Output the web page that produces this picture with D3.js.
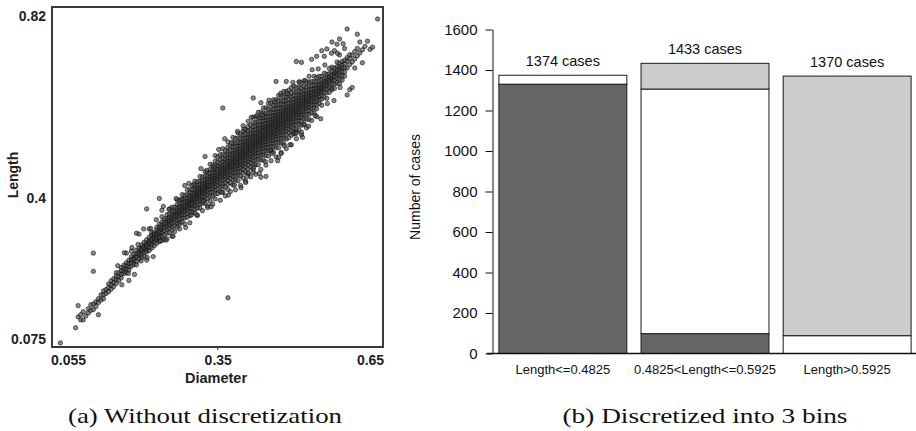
<!DOCTYPE html>
<html>
<head>
<meta charset="utf-8">
<script src="https://cdn.jsdelivr.net/npm/d3@7"></script>
<style>
  body { margin: 0; background: #fff; }
  svg { display: block; }
  .sans { font-family: "Liberation Sans", Arial, sans-serif; }
  .serif { font-family: "Liberation Serif", "Times New Roman", serif; }
</style>
</head>
<body>
<script>
// ---- data: (a) length vs diameter, one entry per diameter value -> list of lengths
var scatterColumns = [
  [.040, [.066]],
  [.070, [.101]],
  [.075, [.126, .152]],
  [.080, [.119, .131]],
  [.085, [.119, .138]],
  [.090, [.128]],
  [.095, [.145, .135]],
  [.100, [.141, .154]],
  [.105, [.143, .156, .231, .273]],
  [.110, [.161, .150]],
  [.115, [.168, .131, .159]],
  [.120, [.165, .177]],
  [.125, [.177, .186, .168]],
  [.130, [.189, .180]],
  [.135, [.193, .184, .202]],
  [.140, [.199, .190, .209]],
  [.145, [.205, .214, .196]],
  [.150, [.212, .220, .203, .228]],
  [.155, [.219, .228, .210]],
  [.160, [.224, .233, .216, .240]],
  [.165, [.226, .238, .231, .245]],
  [.170, [.236, .244, .228, .251, .273]],
  [.175, [.241, .250, .210, .257, .234]],
  [.180, [.250, .258, .243, .265, .278]],
  [.185, [.255, .263, .247, .270, .259]],
  [.190, [.254, .264, .272, .280, .246, .319]],
  [.195, [.268, .276, .260, .284, .317, .272]],
  [.200, [.277, .285, .269, .292, .281, .262]],
  [.205, [.282, .290, .274, .298, .286, .266]],
  [.210, [.288, .296, .280, .304, .257, .292, .276, .375]],
  [.215, [.293, .301, .285, .310, .329, .297, .279]],
  [.220, [.300, .308, .292, .315, .304, .285, .320]],
  [.225, [.305, .313, .297, .321, .309, .290, .317]],
  [.230, [.311, .319, .303, .327, .315, .296, .333, .308]],
  [.235, [.316, .325, .308, .333, .320, .300, .340, .312, .399]],
  [.240, [.302, .313, .321, .327, .332, .338, .345, .357, .372]],
  [.245, [.315, .325, .332, .339, .344, .352, .305]],
  [.250, [.319, .329, .335, .342, .348, .353, .362, .306]],
  [.255, [.320, .331, .339, .345, .350, .356, .363, .375]],
  [.260, [.326, .335, .342, .348, .352, .357, .363, .370, .379, .312]],
  [.265, [.336, .346, .352, .359, .365, .370, .379, .323]],
  [.270, [.333, .342, .350, .356, .361, .366, .371, .377, .385, .396]],
  [.275, [.343, .352, .359, .365, .369, .374, .380, .387, .396, .329]],
  [.280, [.345, .354, .362, .368, .373, .378, .383, .389, .397, .408]],
  [.285, [.354, .363, .370, .376, .380, .385, .391, .398, .407, .340, .429]],
  [.290, [.356, .365, .373, .379, .384, .389, .394, .400, .408, .419]],
  [.295, [.360, .369, .376, .382, .387, .391, .395, .400, .406, .412, .421, .343]],
  [.300, [.367, .376, .384, .390, .395, .400, .405, .411, .419, .430, .387]],
  [.305, [.366, .375, .383, .389, .395, .400, .404, .409, .414, .420, .428, .439]],
  [.310, [.377, .386, .393, .399, .404, .408, .412, .417, .423, .429, .438, .360]],
  [.315, [.377, .386, .394, .400, .406, .411, .415, .420, .425, .431, .439, .450]],
  [.320, [.388, .397, .404, .410, .415, .419, .423, .428, .434, .440, .449, .371]],
  [.325, [.388, .397, .405, .411, .417, .422, .426, .431, .436, .442, .450, .461, .496]],
  [.330, [.399, .408, .415, .421, .426, .430, .434, .439, .445, .451, .460, .382, .378]],
  [.335, [.393, .404, .413, .420, .427, .433, .438, .444, .450, .457, .466, .478]],
  [.340, [.404, .414, .422, .429, .435, .441, .446, .452, .458, .466, .476, .386]],
  [.345, [.398, .410, .419, .426, .433, .439, .444, .449, .454, .460, .467, .475, .485, .498]],
  [.350, [.410, .421, .430, .437, .444, .450, .455, .461, .467, .474, .483, .495]],
  [.355, [.415, .426, .434, .441, .447, .452, .457, .462, .467, .473, .480, .489, .500, .395]],
  [.360, [.414, .426, .435, .442, .449, .455, .460, .465, .470, .476, .483, .491, .501, .514, .608]],
  [.365, [.425, .436, .444, .451, .457, .462, .467, .472, .477, .483, .490, .499, .510, .405]],
  [.370, [.420, .432, .441, .448, .455, .461, .466, .471, .476, .481, .487, .493, .500, .508, .518, .530, .170]],
  [.375, [.435, .446, .454, .461, .467, .472, .477, .482, .487, .493, .500, .509, .520, .415]],
  [.380, [.430, .442, .451, .458, .465, .471, .476, .481, .486, .491, .497, .503, .510, .518, .528, .540]],
  [.385, [.441, .452, .460, .467, .473, .479, .484, .489, .494, .499, .505, .511, .518, .527, .538, .419]],
  [.390, [.440, .452, .461, .468, .475, .481, .486, .491, .496, .501, .507, .513, .520, .528, .538, .550]],
  [.395, [.451, .462, .470, .477, .483, .489, .494, .499, .504, .509, .515, .521, .528, .537, .548, .429]],
  [.400, [.446, .458, .467, .474, .481, .487, .493, .498, .503, .508, .513, .518, .524, .530, .537, .545, .555, .567]],
  [.405, [.461, .472, .480, .487, .493, .499, .504, .509, .514, .519, .525, .531, .538, .547, .558, .439, .436]],
  [.410, [.456, .468, .477, .484, .491, .497, .503, .508, .513, .518, .523, .528, .534, .540, .547, .555, .565, .577, .459]],
  [.415, [.471, .482, .490, .497, .503, .509, .514, .519, .524, .529, .535, .541, .548, .557, .568, .449]],
  [.420, [.466, .478, .487, .494, .501, .507, .513, .518, .523, .528, .533, .538, .544, .550, .557, .565, .575, .587, .459, .631]],
  [.425, [.477, .488, .496, .503, .509, .515, .520, .525, .530, .535, .540, .545, .551, .558, .566, .575, .587, .455]],
  [.430, [.477, .489, .498, .505, .512, .518, .524, .529, .534, .539, .544, .549, .555, .561, .568, .576, .586, .598]],
  [.435, [.488, .499, .507, .514, .520, .526, .531, .536, .541, .546, .551, .556, .562, .569, .577, .586, .598, .466, .620, .448]],
  [.440, [.487, .499, .508, .515, .522, .528, .534, .539, .544, .549, .554, .559, .565, .571, .578, .586, .596, .608]],
  [.445, [.498, .509, .517, .524, .530, .536, .541, .546, .551, .556, .561, .566, .572, .579, .587, .596, .608, .476, .450]],
  [.450, [.497, .509, .518, .525, .532, .538, .544, .549, .554, .559, .564, .569, .575, .581, .588, .596, .606, .618]],
  [.455, [.508, .519, .527, .534, .540, .546, .551, .556, .561, .566, .571, .576, .582, .589, .597, .606, .618, .486, .510]],
  [.460, [.506, .518, .527, .534, .541, .547, .553, .558, .563, .568, .573, .578, .584, .590, .597, .605, .615, .627]],
  [.465, [.517, .528, .536, .543, .549, .555, .560, .565, .570, .575, .580, .585, .591, .598, .606, .615, .627, .495, .669]],
  [.470, [.516, .528, .537, .544, .551, .557, .563, .568, .573, .578, .583, .588, .594, .600, .607, .615, .625, .637, .494]],
  [.475, [.527, .538, .546, .553, .559, .565, .570, .575, .580, .585, .590, .595, .601, .608, .616, .625, .637, .505, .503]],
  [.480, [.525, .537, .546, .553, .560, .566, .572, .577, .582, .587, .592, .597, .603, .609, .616, .624, .634, .646]],
  [.485, [.536, .547, .555, .562, .568, .574, .579, .584, .589, .594, .599, .604, .610, .617, .625, .634, .646, .514, .669]],
  [.490, [.539, .551, .560, .567, .574, .580, .585, .590, .595, .600, .606, .612, .619, .627, .637, .649]],
  [.495, [.545, .556, .564, .571, .577, .583, .588, .593, .598, .603, .608, .613, .619, .626, .634, .643, .655, .523]],
  [.500, [.548, .560, .569, .576, .583, .589, .594, .599, .604, .609, .615, .621, .628, .636, .646, .658, .552]],
  [.505, [.559, .570, .578, .585, .591, .597, .602, .607, .612, .617, .623, .629, .636, .645, .656, .537, .715, .552]],
  [.510, [.558, .570, .579, .586, .593, .599, .604, .609, .614, .619, .625, .631, .638, .646, .656, .668]],
  [.515, [.568, .579, .587, .594, .600, .606, .611, .616, .621, .626, .632, .638, .645, .654, .665, .546, .713, .552]],
  [.520, [.571, .583, .592, .599, .606, .612, .617, .622, .627, .633, .640, .648, .658, .671, .569]],
  [.525, [.582, .593, .601, .608, .614, .619, .624, .629, .634, .640, .647, .656, .667, .562]],
  [.530, [.581, .593, .602, .609, .616, .622, .627, .632, .637, .643, .650, .658, .668, .681]],
  [.535, [.597, .607, .615, .622, .628, .634, .639, .645, .651, .659, .669, .579, .720]],
  [.540, [.596, .607, .616, .623, .630, .636, .641, .647, .653, .660, .669, .681]],
  [.545, [.606, .616, .624, .631, .637, .643, .648, .654, .660, .668, .678, .588, .727]],
  [.550, [.618, .627, .635, .641, .646, .651, .656, .662, .670, .681]],
  [.555, [.628, .637, .644, .650, .654, .659, .665, .672, .681, .614, .740]],
  [.560, [.633, .644, .652, .658, .663, .669, .676, .688, .727]],
  [.565, [.643, .653, .659, .666, .672, .677, .686, .630, .744]],
  [.570, [.644, .655, .663, .669, .674, .680, .687, .699]],
  [.575, [.653, .664, .672, .677, .683, .691, .702, .650, .760]],
  [.580, [.663, .673, .680, .687, .692, .700, .653, .740]],
  [.585, [.665, .676, .684, .689, .695, .703, .714, .755]],
  [.590, [.674, .684, .691, .698, .703, .711, .664, .767, .730]],
  [.595, [.682, .692, .700, .707, .715, .672]],
  [.600, [.691, .701, .710, .718, .681, .745]],
  [.605, [.700, .716, .724, .638, .790]],
  [.610, [.708, .722, .731, .650]],
  [.615, [.714, .730, .655]],
  [.620, [.721, .738, .700]],
  [.625, [.728, .745, .778]],
  [.630, [.735, .760]],
  [.635, [.742, .712]],
  [.640, [.750]],
  [.645, [.762]],
  [.650, [.743]],
  [.655, [.748]],
  [.665, [.813]]
];
// loose points round the edges of the cloud, [diameter, length]
var scatterFringe = [
  [.153, .244], [.161, .200], [.166, .274], [.174, .226], [.181, .286], [.186, .224],
  [.193, .293], [.199, .255], [.204, .329], [.211, .263], [.218, .330], [.223, .265],
  [.229, .350], [.237, .301], [.243, .381], [.248, .303], [.254, .374], [.262, .312],
  [.268, .399], [.274, .339], [.279, .397], [.287, .332], [.293, .434], [.298, .361],
  [.303, .431], [.309, .361], [.317, .468], [.322, .393], [.328, .464], [.337, .380],
  [.343, .471],
  [.352, .512], [.358, .413], [.364, .537], [.371, .407], [.377, .528], [.383, .430],
  [.389, .554], [.396, .424], [.402, .559], [.408, .450], [.416, .586], [.421, .471],
  [.427, .590], [.432, .457], [.438, .591], [.444, .484], [.451, .626], [.457, .503],
  [.462, .622], [.468, .486], [.474, .642], [.481, .521], [.487, .641], [.492, .523],
  [.498, .667], [.504, .549], [.511, .668], [.517, .540], [.523, .671], [.529, .566],
  [.536, .696], [.542, .590], [.548, .698], [.553, .583], [.561, .707], [.566, .618],
  [.574, .734], [.579, .625], [.586, .734], [.591, .655], [.597, .756]
];
var diameterTicks = [0.055, 0.35, 0.65];
var lengthTicks = [0.075, 0.4, 0.82];

// ---- data: (b) discretized bins
var binLabels = ["Length<=0.4825", "0.4825<Length<=0.5925", "Length>0.5925"];
var caseTotals = [1374, 1433, 1370];
var darkCounts = [1330, 98, 0];
var whiteCounts = [44, 1208, 88];
var grayCounts = [0, 127, 1282];
var countTicks = [0, 200, 400, 600, 800, 1000, 1200, 1400, 1600];

var width = 916, height = 431;

var svg = d3.select("body").append("svg")
    .attr("width", width)
    .attr("height", height);

svg.append("rect").attr("width", width).attr("height", height).attr("fill", "#fff");

// ================= (a) scatter =================
var xA = d3.scaleLinear().domain([0.055, 0.65]).range([68, 370]);
var yA = d3.scaleLinear().domain([0.075, 0.82]).range([339, 16]);

var points = [];
scatterColumns.forEach(function(col) {
    col[1].forEach(function(l) { points.push({ d: col[0], l: l }); });
});
scatterFringe.forEach(function(p) { points.push({ d: p[0], l: p[1] }); });

svg.append("rect")
    .attr("x", 52).attr("y", 7)
    .attr("width", 331).attr("height", 340)
    .attr("fill", "#fff")
    .attr("stroke", "#3a3a3a")
    .attr("stroke-width", 2);

svg.append("g").selectAll("circle")
    .data(points)
    .enter().append("circle")
    .attr("cx", function(p) { return xA(p.d); })
    .attr("cy", function(p) { return yA(p.l); })
    .attr("r", 2.2)
    .style("fill", "#4a4a4a")
    .style("fill-opacity", 0.65)
    .style("stroke", "#000")
    .style("stroke-opacity", 0.75)
    .style("stroke-width", 0.7);

// small tick under the middle x label
svg.append("line")
    .attr("x1", xA(0.35)).attr("x2", xA(0.35))
    .attr("y1", 347).attr("y2", 350)
    .attr("stroke", "#333").attr("stroke-width", 1);

var axA_x = svg.append("g")
    .attr("transform", "translate(0,347)")
    .call(d3.axisBottom(xA).tickValues(diameterTicks).tickSize(0).tickPadding(8)
        .tickFormat(function(d) { return String(d); }));
axA_x.select(".domain").remove();

var axA_y = svg.append("g")
    .attr("transform", "translate(52,0)")
    .call(d3.axisLeft(yA).tickValues(lengthTicks).tickSize(0).tickPadding(6)
        .tickFormat(function(d) { return String(d); }));
axA_y.select(".domain").remove();

[axA_x, axA_y].forEach(function(ax) {
    ax.selectAll("text")
        .style("font-family", "'Liberation Sans', Arial, sans-serif")
        .style("font-size", "14px")
        .style("font-weight", "bold")
        .style("fill", "#222");
});

svg.append("text")
    .attr("class", "sans")
    .attr("x", 216).attr("y", 383)
    .attr("text-anchor", "middle")
    .style("font-size", "14.5px").style("font-weight", "bold").style("fill", "#222")
    .text("Diameter");

svg.append("text")
    .attr("class", "sans")
    .attr("transform", "translate(18,175) rotate(-90)")
    .attr("text-anchor", "middle")
    .style("font-size", "14px").style("font-weight", "bold").style("fill", "#222")
    .text("Length");

// ================= (b) stacked bars =================
var xB = d3.scaleBand().domain(binLabels).range([492.5, 917.5])
    .paddingInner(0.1).paddingOuter(0.045);
var yB = d3.scaleLinear().domain([0, 1600]).range([353.5, 29.5]);

var table = binLabels.map(function(b, i) {
    return { bin: b, dark: darkCounts[i], white: whiteCounts[i], gray: grayCounts[i] };
});
var series = d3.stack().keys(["dark", "white", "gray"])(table);
var fills = { dark: "#666666", white: "#ffffff", gray: "#cccccc" };

svg.append("g").selectAll("g")
    .data(series)
    .enter().append("g")
    .attr("fill", function(s) { return fills[s.key]; })
    .selectAll("rect")
    .data(function(s) { return s.filter(function(v) { return v[1] > v[0]; }); })
    .enter().append("rect")
    .attr("x", function(v) { return xB(v.data.bin); })
    .attr("y", function(v) { return yB(v[1]); })
    .attr("width", xB.bandwidth())
    .attr("height", function(v) { return yB(v[0]) - yB(v[1]); })
    .attr("stroke", "#1a1a1a")
    .attr("stroke-width", 1);

svg.append("g").selectAll("text")
    .data(binLabels)
    .enter().append("text")
    .attr("class", "sans")
    .attr("x", function(b) { return xB(b) + xB.bandwidth() / 2; })
    .attr("y", function(b, i) { return yB(caseTotals[i]) - 9.5; })
    .attr("text-anchor", "middle")
    .style("font-size", "14.5px")
    .style("fill", "#111")
    .text(function(b, i) { return caseTotals[i] + " cases"; });

var axB_y = svg.append("g")
    .attr("transform", "translate(492.5,0)")
    .call(d3.axisLeft(yB).tickValues(countTicks).tickSize(7).tickSizeOuter(0).tickPadding(8)
        .tickFormat(d3.format("d")));
axB_y.selectAll("text")
    .style("font-family", "'Liberation Sans', Arial, sans-serif")
    .style("font-size", "15px")
    .style("fill", "#111");
axB_y.selectAll("line, path").attr("stroke", "#111");

var axB_x = svg.append("g")
    .attr("transform", "translate(0,353.5)")
    .call(d3.axisBottom(xB).tickSize(0).tickPadding(11));
axB_x.select(".domain").remove();
axB_x.selectAll("text")
    .style("font-family", "'Liberation Sans', Arial, sans-serif")
    .style("font-size", "13px")
    .style("fill", "#111");

svg.append("line")
    .attr("x1", 487).attr("x2", 916)
    .attr("y1", 353.5).attr("y2", 353.5)
    .attr("stroke", "#111").attr("stroke-width", 1.3);

svg.append("text")
    .attr("class", "sans")
    .attr("transform", "translate(420,187) rotate(-90)")
    .attr("text-anchor", "middle")
    .style("font-size", "14px")
    .style("fill", "#111")
    .text("Number of cases");

// ================= captions =================
svg.append("text")
    .attr("class", "serif")
    .attr("x", 205).attr("y", 423)
    .attr("text-anchor", "middle")
    .attr("textLength", 274).attr("lengthAdjust", "spacingAndGlyphs")
    .style("font-size", "21.5px").style("fill", "#111")
    .text("(a) Without discretization");

svg.append("text")
    .attr("class", "serif")
    .attr("x", 705).attr("y", 423)
    .attr("text-anchor", "middle")
    .attr("textLength", 285).attr("lengthAdjust", "spacingAndGlyphs")
    .style("font-size", "21.5px").style("fill", "#111")
    .text("(b) Discretized into 3 bins");
</script>
</body>
</html>
